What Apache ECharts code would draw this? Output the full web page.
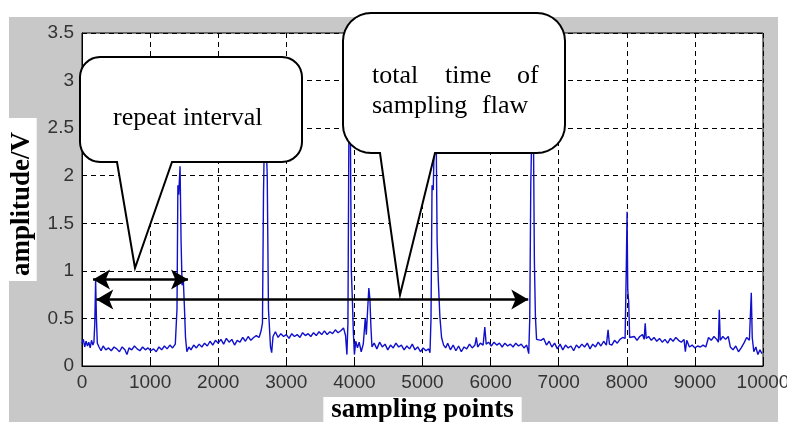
<!DOCTYPE html>
<html>
<head>
<meta charset="utf-8">
<script src="https://cdn.jsdelivr.net/npm/echarts@6.0.0/dist/echarts.min.js"></script>
<style>
  html, body { margin: 0; padding: 0; background: #fff; }
  #chart { width: 787px; height: 422px; }
</style>
</head>
<body>
<div id="chart"></div>
<script>
// trace, [sample index, amplitude in V]
const lead = [[0,0.24],[20,0.28],[40,0.2],[60,0.26],[80,0.21],[100,0.25],[120,0.19],[140,0.27],[160,0.22],[175,0.25]];
const pulse1 = [[188,0.45],[200,0.9],[212,0.5],[225,0.24]];
const quiet1 = [[250,0.2],[280,0.16],[310,0.21],[350,0.17],[390,0.19],[430,0.16],[470,0.2],[510,0.18],[550,0.15],[590,0.2],[630,0.17],[660,0.12],[690,0.19],[730,0.17],[770,0.21],[810,0.18],[850,0.16],[890,0.2],[930,0.17],[970,0.19],[1010,0.16],[1050,0.18],[1090,0.15],[1130,0.2],[1170,0.17],[1210,0.21],[1250,0.18],[1290,0.22],[1330,0.19],[1370,0.23]];
const pulse2 = [[1395,0.6],[1408,1.9],[1420,1.8],[1440,2.1],[1455,1.3],[1470,0.85],[1488,0.9],[1505,0.6],[1520,0.3],[1540,0.15]];
const quiet2 = [[1570,0.2],[1600,0.17],[1640,0.22],[1680,0.19],[1720,0.23],[1760,0.2],[1800,0.24],[1840,0.21],[1880,0.26],[1920,0.22],[1960,0.27],[2000,0.24],[2040,0.28],[2080,0.23],[2120,0.29],[2160,0.25],[2200,0.28],[2240,0.22],[2280,0.27],[2320,0.25],[2360,0.3],[2400,0.26],[2440,0.31],[2480,0.27],[2520,0.3],[2560,0.32],[2600,0.3],[2630,0.37]];
const pulse3 = [[2650,0.45],[2665,1.8],[2680,2.5],[2700,2.45],[2720,2.0],[2738,0.6],[2752,0.58],[2768,0.2],[2785,0.14],[2805,0.31]];
const quiet3 = [[2840,0.36],[2880,0.3],[2920,0.34],[2960,0.31],[3000,0.33],[3040,0.29],[3080,0.34],[3120,0.31],[3160,0.33],[3200,0.3],[3240,0.35],[3280,0.32],[3320,0.34],[3360,0.31],[3400,0.35],[3440,0.32],[3480,0.36],[3520,0.33],[3560,0.37],[3600,0.33],[3640,0.36],[3680,0.34],[3720,0.38],[3760,0.35],[3800,0.37],[3840,0.4],[3870,0.32]];
const pulse4 = [[3890,0.12],[3905,0.45],[3920,2.6],[3940,2.55],[3955,1.0],[3970,0.7],[3985,0.35],[4000,0.12],[4020,0.26]];
const pulse5 = [[4045,0.19],[4070,0.25],[4100,0.15],[4130,0.23],[4160,0.5],[4175,0.33],[4195,0.6],[4212,0.82],[4228,0.7],[4242,0.42],[4258,0.2]];
const quiet4 = [[4290,0.24],[4330,0.18],[4370,0.25],[4410,0.2],[4450,0.23],[4490,0.17],[4530,0.22],[4570,0.19],[4610,0.24],[4650,0.2],[4690,0.22],[4730,0.17],[4770,0.21],[4810,0.18],[4850,0.23],[4890,0.17],[4930,0.2],[4970,0.15],[5010,0.19],[5050,0.16],[5090,0.18],[5110,0.14]];
const pulse6 = [[5125,0.5],[5140,1.9],[5158,1.85],[5178,2.55],[5200,2.5],[5215,1.3],[5232,0.9],[5255,0.52],[5280,0.3],[5310,0.22]];
const quiet5 = [[5340,0.19],[5370,0.24],[5410,0.17],[5450,0.22],[5490,0.16],[5530,0.21],[5570,0.15],[5610,0.2],[5650,0.18],[5690,0.23],[5730,0.19],[5770,0.22],[5790,0.3],[5810,0.2],[5850,0.24],[5890,0.22],[5915,0.41],[5935,0.23],[5970,0.25],[6010,0.21],[6050,0.25],[6090,0.22],[6130,0.24],[6170,0.2],[6210,0.24],[6250,0.21],[6290,0.23],[6330,0.2],[6370,0.24],[6410,0.21],[6450,0.23],[6490,0.19],[6530,0.22],[6560,0.13]];
const pulse7 = [[6575,0.5],[6590,1.9],[6608,2.6],[6628,2.55],[6643,1.1],[6658,0.52],[6675,0.28]];
const quiet6 = [[6700,0.3],[6740,0.27],[6780,0.29],[6820,0.22],[6860,0.26],[6900,0.2],[6940,0.24],[6980,0.18],[7020,0.23],[7060,0.17],[7100,0.22],[7140,0.19],[7180,0.21],[7220,0.16],[7260,0.22],[7300,0.19],[7340,0.23],[7380,0.2],[7420,0.24],[7460,0.18],[7500,0.23],[7540,0.2],[7580,0.25],[7620,0.21],[7660,0.26],[7700,0.22],[7725,0.38],[7745,0.23],[7780,0.22],[7820,0.27],[7860,0.24],[7900,0.28],[7940,0.3],[7975,0.29]];
const pulse8 = [[7992,1.0],[8004,1.62],[8014,0.8],[8028,0.67],[8042,0.3]];
const tail = [[8070,0.28],[8110,0.31],[8150,0.27],[8190,0.31],[8230,0.33],[8255,0.28],[8270,0.45],[8285,0.29],[8320,0.31],[8360,0.27],[8400,0.3],[8440,0.26],[8480,0.29],[8520,0.25],[8560,0.28],[8600,0.24],[8640,0.29],[8680,0.26],[8720,0.3],[8760,0.27],[8800,0.25],[8840,0.28],[8860,0.15],[8880,0.27],[8920,0.2],[8960,0.22],[9000,0.19],[9040,0.21],[9080,0.2],[9120,0.22],[9160,0.2],[9200,0.3],[9240,0.27],[9280,0.31],[9320,0.28],[9345,0.25],[9358,0.59],[9372,0.27],[9410,0.31],[9450,0.28],[9490,0.31],[9520,0.2],[9560,0.17],[9600,0.21],[9640,0.15],[9680,0.19],[9720,0.24],[9760,0.3],[9800,0.27],[9828,0.77],[9842,0.3],[9865,0.15],[9895,0.2],[9925,0.12],[9955,0.17],[9985,0.13]];

// arrows: [from sample, to sample, amplitude]
const repeatSpan = [162, 1557, 0.91];
const totalSpan = [210, 6553, 0.70];

const trace = [].concat(lead, pulse1, quiet1, pulse2, quiet2, pulse3, quiet3, pulse4,
  pulse5, quiet4, pulse6, quiet5, pulse7, quiet6, pulse8, tail);

const serif = '"Times New Roman", "Liberation Serif", serif';
const sans = 'Arial, "Liberation Sans", sans-serif';

// speech bubble outline as a polygon: rounded box plus a tail hanging from its bottom edge
function bubble(x0, y0, x1, y1, r, a, b, tx, ty) {
  const pts = [];
  function corner(cx, cy, start) {
    for (let i = 0; i <= 8; i++) {
      const t = (start + i * 90 / 8) * Math.PI / 180;
      pts.push([cx + r * Math.cos(t), cy + r * Math.sin(t)]);
    }
  }
  corner(x1 - r, y0 + r, -90);   // top right
  corner(x1 - r, y1 - r, 0);     // bottom right
  pts.push([b, y1], [tx, ty], [a, y1]);
  corner(x0 + r, y1 - r, 90);    // bottom left
  corner(x0 + r, y0 + r, 180);   // top left
  return pts;
}

function word(text, x, y) {
  return {
    type: 'text', z: 101,
    style: { text: text, x: x, y: y, font: '26px ' + serif, fill: '#000', verticalAlign: 'middle' }
  };
}

const chart = echarts.init(document.getElementById('chart'));
chart.setOption({
  animation: false,
  backgroundColor: '#fff',
  grid: {
    left: 82, right: 24, top: 33, bottom: 56,
    outerBoundsMode: 'none',
    show: true, backgroundColor: '#fff', borderColor: '#000', borderWidth: 1
  },
  xAxis: {
    type: 'value', min: 0, max: 10000, interval: 1000,
    name: 'sampling points', nameLocation: 'middle', nameGap: 27,
    nameTextStyle: {
      fontFamily: serif, fontWeight: 'bold', fontSize: 27, color: '#000',
      backgroundColor: '#fff', padding: [0, 8, 3, 8]
    },
    axisLine: { lineStyle: { color: '#000' } },
    axisTick: { inside: true, length: 5, lineStyle: { color: '#000' } },
    axisLabel: { fontFamily: sans, fontSize: 19, color: '#333', margin: 7, formatter: v => String(v) },
    splitLine: { lineStyle: { color: '#000', type: [5, 4] } }
  },
  yAxis: {
    type: 'value', min: 0, max: 3.5, interval: 0.5,
    name: 'amplitude/V', nameLocation: 'middle', nameGap: 43,
    nameTextStyle: {
      fontFamily: serif, fontWeight: 'bold', fontSize: 27, color: '#000',
      backgroundColor: '#fff', padding: [2, 14, 1, 5]
    },
    axisLine: { lineStyle: { color: '#000' } },
    axisTick: { inside: true, length: 5, lineStyle: { color: '#000' } },
    axisLabel: { fontFamily: sans, fontSize: 19, color: '#333', margin: 8, formatter: v => String(v) },
    splitLine: { lineStyle: { color: '#000', type: [5, 4] } }
  },
  series: [{
    type: 'line',
    data: trace,
    showSymbol: false,
    sampling: 'none',
    lineStyle: { color: '#1010cc', width: 1.4 },
    markLine: {
      silent: true,
      symbol: ['arrow', 'arrow'],
      symbolSize: [15, 17],
      label: { show: false },
      lineStyle: { color: '#000', width: 2.5, type: 'solid' },
      data: [
        [{ coord: [repeatSpan[0], repeatSpan[2]] }, { coord: [repeatSpan[1], repeatSpan[2]] }],
        [{ coord: [totalSpan[0], totalSpan[2]] }, { coord: [totalSpan[1], totalSpan[2]] }]
      ]
    }
  }],
  graphic: [
    { type: 'rect', z: -10, shape: { x: 9, y: 17, width: 769, height: 405 }, style: { fill: '#c8c8c8' } },
    {
      type: 'polygon', z: 100,
      shape: { points: bubble(80, 57, 302, 162, 20, 117, 172, 135, 268) },
      style: { fill: '#fff', stroke: '#000', lineWidth: 2 }
    },
    {
      type: 'polygon', z: 100,
      shape: { points: bubble(343, 13, 565, 153, 28, 380, 435, 400, 295) },
      style: { fill: '#fff', stroke: '#000', lineWidth: 2 }
    },
    word('repeat interval', 113, 118),
    word('total', 372, 76),
    word('time', 445, 76),
    word('of', 517, 76),
    word('sampling', 372, 106),
    word('flaw', 482, 106)
  ]
});
</script>
</body>
</html>
